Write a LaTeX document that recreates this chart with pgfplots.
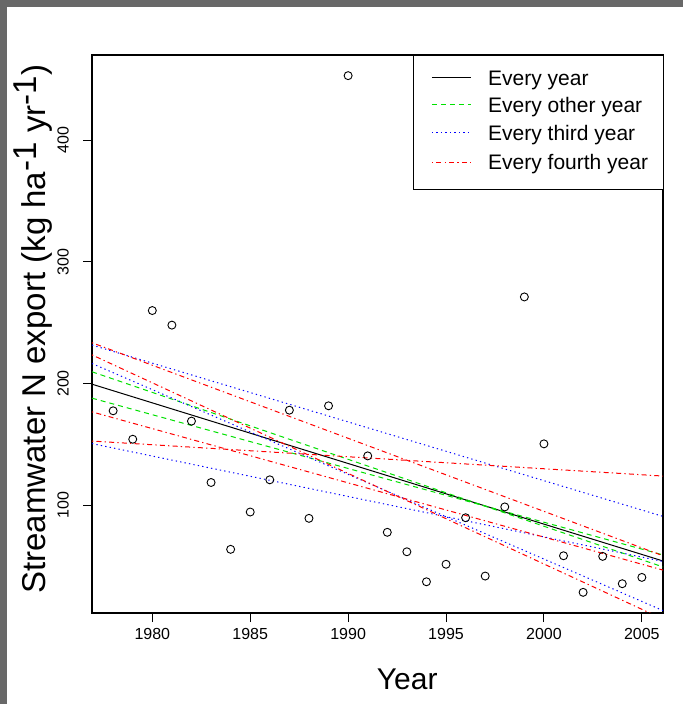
\documentclass[border=0pt]{standalone}
\usepackage{fontspec}
\setmainfont{Liberation Sans}
\usepackage{pgfplots}
\usepackage{pgfplotstable}
\pgfplotsset{compat=1.18}

\definecolor{framegray}{RGB}{104,104,104}
\definecolor{rgreen}{RGB}{0,225,0}
\definecolor{rblue}{RGB}{0,0,255}
\definecolor{rred}{RGB}{255,0,0}

% Annual streamwater N export (kg/ha/yr)
\pgfplotstableread{
year N
1978 177.5
1979 154.1
1980 260.0
1981 248.0
1982 169.0
1983 118.5
1984 63.5
1985 94.2
1986 120.7
1987 178.0
1988 89.0
1989 181.6
1990 453.3
1991 140.4
1992 77.5
1993 61.5
1994 36.8
1995 51.2
1996 89.5
1997 41.5
1998 98.4
1999 271.2
2000 150.3
2001 58.2
2002 28.1
2003 57.7
2004 35.2
2005 40.4
}\exportdata

\tikzset{
  allfit/.style={draw=black, line width=1pt},
  fit2/.style={draw=rgreen, line width=1pt, dash pattern=on 5pt off 4pt},
  fit3/.style={draw=rblue, line width=1pt, dash pattern=on 1.3pt off 3.2pt},
  fit4/.style={draw=rred, line width=1pt, dash pattern=on 1.3pt off 3.2pt on 5pt off 3.2pt},
  keytext/.style={anchor=base west, inner sep=0pt, font=\fontsize{21}{25}\selectfont},
}

\begin{document}
\begin{tikzpicture}[x=1pt,y=1pt]
\fill[white] (0,0) rectangle (683,704);
\fill[framegray] (0,697) rectangle (683,704);
\fill[framegray] (0,0) rectangle (7,704);
\begin{axis}[
  at={(92pt,91pt)}, anchor=south west,
  scale only axis, width=571pt, height=558pt,
  xmin=1976.92, xmax=2006.08, ymin=11.1, ymax=470.3,
  xtick={1980,1985,...,2005}, ytick={100,200,300,400},
  xtick pos=bottom, ytick pos=left,
  tick align=outside, major tick length=9pt,
  every tick/.style={black, line width=0.9pt},
  axis line style={black, line width=1.1pt},
  /pgf/number format/assume math mode=true,
  /pgf/number format/1000 sep={},
  tick label style={font=\fontsize{16}{19}\selectfont},
  xticklabel style={anchor=north, inner sep=0pt, yshift=-6pt},
  yticklabel style={rotate=90, anchor=south, inner sep=0pt, yshift=14pt},
  xlabel={Year},
  xlabel style={at={(axis description cs:0.552,-0.1362)}, anchor=base, font=\fontsize{30}{34}\selectfont},
  ylabel={Streamwater N export (kg ha$^{\textrm{-1}}$ yr$^{\textrm{-1}}$)},
  ylabel style={at={(axis description cs:-0.0806,0.509)}, anchor=base, rotate=0, font=\fontsize{33}{37}\selectfont},
]
% observations
\addplot[only marks, mark=o, mark size=4pt, black, line width=0.9pt]
  table[x=year, y=N] {\exportdata};

% fitted trend, all years
\addplot[allfit] coordinates {(1976.92,199.4) (2006.08,53.9)};

% fits from every other year
\addplot[fit2] coordinates {(1976.92,209.6) (2006.08,49.0)};
\addplot[fit2] coordinates {(1976.92,187.9) (2006.08,58.9)};

% fits from every third year
\addplot[fit3] coordinates {(1976.92,231.6) (2006.08,90.6)};
\addplot[fit3] coordinates {(1976.92,150.5) (2006.08,53.5)};
\addplot[fit3] coordinates {(1976.92,216.4) (2006.08,13.1)};

% fits from every fourth year
\addplot[fit4] coordinates {(1976.92,233.5) (2006.08,58.2)};
\addplot[fit4] coordinates {(1976.92,152.6) (2006.08,123.8)};
\addplot[fit4] coordinates {(1976.92,176.6) (2006.08,46.4)};
\addplot[fit4] coordinates {(1976.92,223.5) (2006.08,6.1)};

% key box in the upper right corner
\draw[black, line width=0.8pt, fill=white] (rel axis cs:0.5622,0.7599) rectangle (rel axis cs:1,1);
\draw[allfit] (rel axis cs:0.5954,0.9588) -- (rel axis cs:0.6637,0.9588);
\draw[fit2]   (rel axis cs:0.5954,0.9104) -- (rel axis cs:0.6637,0.9104);
\draw[fit3]   (rel axis cs:0.5954,0.8602) -- (rel axis cs:0.6637,0.8602);
\draw[fit4]   (rel axis cs:0.5954,0.8082) -- (rel axis cs:0.6637,0.8082);
\node[keytext] at (rel axis cs:0.6935,0.9454) {Every year};
\node[keytext] at (rel axis cs:0.6935,0.8970) {Every other year};
\node[keytext] at (rel axis cs:0.6935,0.8468) {Every third year};
\node[keytext] at (rel axis cs:0.6935,0.7948) {Every fourth year};
\end{axis}
\end{tikzpicture}
\end{document}
